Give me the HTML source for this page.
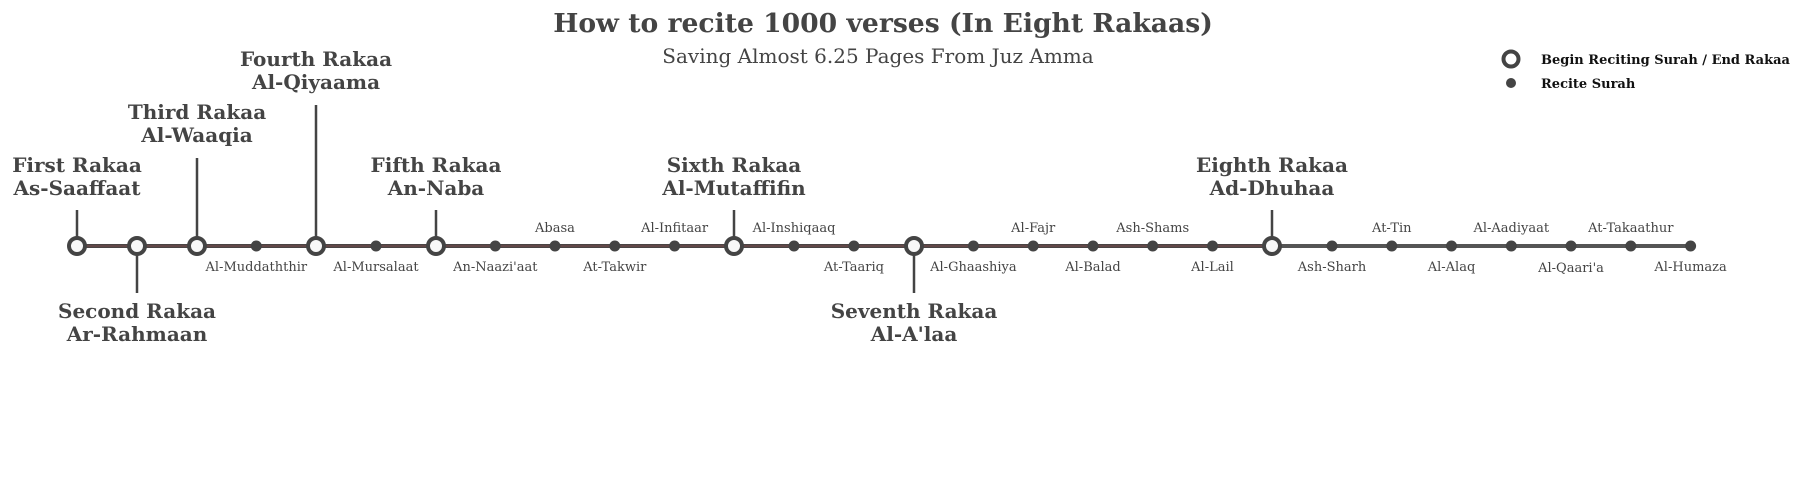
<!DOCTYPE html>
<html><head><meta charset="utf-8"><style>body{margin:0;background:#fff}svg{display:block}</style></head>
<body>
<svg width="1806" height="493" viewBox="0 0 1806 493" xmlns="http://www.w3.org/2000/svg" font-family="'DejaVu Serif','Liberation Serif',serif" fill="#444">
<text x="883" y="32" text-anchor="middle" font-size="26.6" font-weight="bold">How to recite 1000 verses (In Eight Rakaas)</text>
<text x="878" y="63" text-anchor="middle" font-size="20">Saving Almost 6.25 Pages From Juz Amma</text>
<!-- legend -->
<circle cx="1511" cy="59" r="7.5" fill="#fff" stroke="#444" stroke-width="4"/>
<text x="1541" y="64" font-size="13" font-weight="bold" fill="#111">Begin Reciting Surah / End Rakaa</text>
<circle cx="1511" cy="83" r="5" fill="#444"/>
<text x="1541" y="88" font-size="13" font-weight="bold" fill="#111">Recite Surah</text>
<!-- main line -->
<line x1="77" y1="246" x2="1273" y2="246" stroke="#4a4444" stroke-width="4"/>
<line x1="77" y1="246" x2="1273" y2="246" stroke="#6a4a4a" stroke-width="1.5"/>
<line x1="1273" y1="246" x2="1691" y2="246" stroke="#555" stroke-width="4"/>
<!-- stems -->
<g stroke="#444" stroke-width="2.5">
<line x1="77" y1="210" x2="77" y2="246"/>
<line x1="137" y1="246" x2="137" y2="293"/>
<line x1="197" y1="158" x2="197" y2="246"/>
<line x1="316" y1="105" x2="316" y2="246"/>
<line x1="436" y1="210" x2="436" y2="246"/>
<line x1="734" y1="210" x2="734" y2="246"/>
<line x1="914" y1="246" x2="914" y2="293"/>
<line x1="1272" y1="210" x2="1272" y2="246"/>
</g>
<!-- small dots -->
<g fill="#444">
<circle cx="256.3" cy="246" r="5.5"/><circle cx="376" cy="246" r="5.5"/>
<circle cx="495.3" cy="246" r="5.5"/><circle cx="555" cy="246" r="5.5"/>
<circle cx="614.8" cy="246" r="5.5"/><circle cx="674.6" cy="246" r="5.5"/>
<circle cx="794" cy="246" r="5.5"/><circle cx="853.9" cy="246" r="5.5"/>
<circle cx="973.4" cy="246" r="5.5"/><circle cx="1033.2" cy="246" r="5.5"/>
<circle cx="1093" cy="246" r="5.5"/><circle cx="1152.7" cy="246" r="5.5"/>
<circle cx="1212.5" cy="246" r="5.5"/><circle cx="1332" cy="246" r="5.5"/>
<circle cx="1391.8" cy="246" r="5.5"/><circle cx="1451.5" cy="246" r="5.5"/>
<circle cx="1511.3" cy="246" r="5.5"/><circle cx="1571" cy="246" r="5.5"/>
<circle cx="1630.8" cy="246" r="5.5"/><circle cx="1690.6" cy="246" r="5.5"/>
</g>
<!-- big circles -->
<g fill="#f8f8f8" stroke="#444" stroke-width="4">
<circle cx="77" cy="246" r="8"/><circle cx="137" cy="246" r="8"/>
<circle cx="197" cy="246" r="8"/><circle cx="316" cy="246" r="8"/>
<circle cx="436" cy="246" r="8"/><circle cx="734" cy="246" r="8"/>
<circle cx="914" cy="246" r="8"/><circle cx="1272" cy="246" r="8"/>
</g>
<!-- rakaa labels -->
<g font-size="20" font-weight="bold" text-anchor="middle">
<text x="77" y="172">First Rakaa</text><text x="77" y="195">As-Saaffaat</text>
<text x="137" y="318">Second Rakaa</text><text x="137" y="341">Ar-Rahmaan</text>
<text x="197" y="119">Third Rakaa</text><text x="197" y="142">Al-Waaqia</text>
<text x="316" y="66">Fourth Rakaa</text><text x="316" y="89">Al-Qiyaama</text>
<text x="436" y="172">Fifth Rakaa</text><text x="436" y="195">An-Naba</text>
<text x="734" y="172">Sixth Rakaa</text><text x="734" y="195">Al-Mutaffifin</text>
<text x="914" y="318">Seventh Rakaa</text><text x="914" y="341">Al-A'laa</text>
<text x="1272" y="172">Eighth Rakaa</text><text x="1272" y="195">Ad-Dhuhaa</text>
</g>
<!-- surah labels -->
<g font-size="13" text-anchor="middle">
<text x="256.3" y="271">Al-Muddaththir</text>
<text x="376" y="271">Al-Mursalaat</text>
<text x="495.3" y="271">An-Naazi'aat</text>
<text x="555" y="232">Abasa</text>
<text x="614.8" y="271">At-Takwir</text>
<text x="674.6" y="232">Al-Infitaar</text>
<text x="794" y="232">Al-Inshiqaaq</text>
<text x="853.9" y="271">At-Taariq</text>
<text x="973.4" y="271">Al-Ghaashiya</text>
<text x="1033.2" y="232">Al-Fajr</text>
<text x="1093" y="271">Al-Balad</text>
<text x="1152.7" y="232">Ash-Shams</text>
<text x="1212.5" y="271">Al-Lail</text>
<text x="1332" y="271">Ash-Sharh</text>
<text x="1391.8" y="232">At-Tin</text>
<text x="1451.5" y="271">Al-Alaq</text>
<text x="1511.3" y="232">Al-Aadiyaat</text>
<text x="1571" y="272">Al-Qaari'a</text>
<text x="1630.8" y="232">At-Takaathur</text>
<text x="1690.6" y="271">Al-Humaza</text>
</g>
</svg>
</body></html>
